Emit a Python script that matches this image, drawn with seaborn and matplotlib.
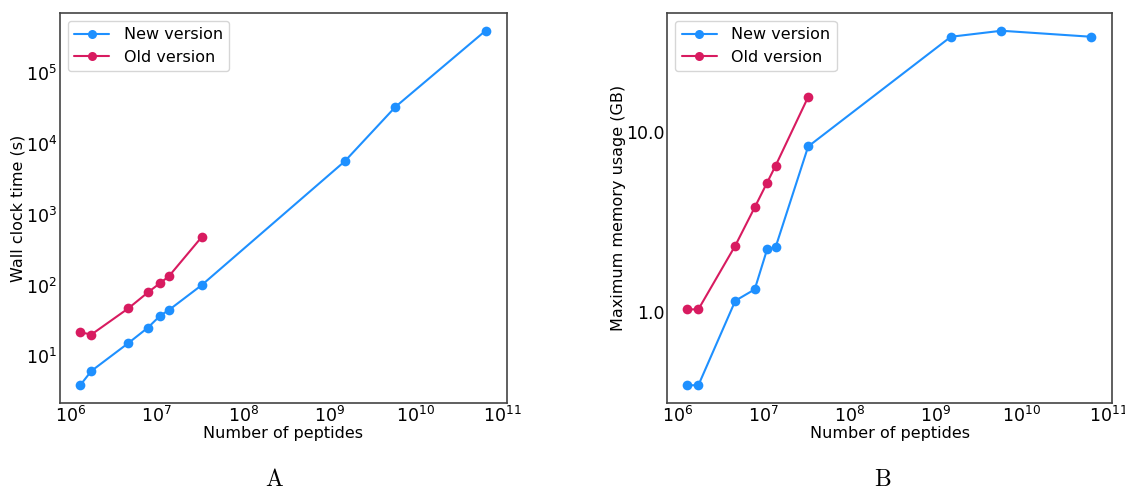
import numpy as np
import pandas as pd
import matplotlib
matplotlib.use("Agg")
import matplotlib.pyplot as plt
import matplotlib.ticker as mticker
import seaborn as sns

# data
peptides_new = [1.3e6, 1.75e6, 4.7e6, 7.9e6, 1.1e7, 1.38e7, 3.3e7, 1.5e9, 5.8e9, 6.4e10]
peptides_old = [1.3e6, 1.75e6, 4.7e6, 7.9e6, 1.1e7, 1.38e7, 3.3e7]

time_new = [3.9, 6.2, 15.4, 25.4, 37.7, 45, 101, 5700, 33600, 400000]
time_old = [21.9, 20.3, 47.7, 80, 109, 135, 482]

mem_new = [0.39, 0.39, 1.15, 1.33, 2.22, 2.28, 8.28, 33.7, 36.4, 33.7]
mem_old = [1.03, 1.03, 2.33, 3.80, 5.21, 6.47, 15.6]

versions = ["New version", "Old version"]
colors = {"New version": "#1E90FF", "Old version": "#D81B60"}

df = pd.concat([
    pd.DataFrame({"peptides": peptides_new, "time": time_new, "mem": mem_new,
                  "version": versions[0]}),
    pd.DataFrame({"peptides": peptides_old, "time": time_old, "mem": mem_old,
                  "version": versions[1]}),
], ignore_index=True)

sns.set_style("white")
plt.rcParams["font.family"] = ["DejaVu Sans"]
plt.rcParams["mathtext.fontset"] = "dejavusans"
plt.rcParams["text.color"] = "black"
plt.rcParams["axes.labelcolor"] = "black"
plt.rcParams["xtick.color"] = "black"
plt.rcParams["ytick.color"] = "black"

fig = plt.figure(figsize=(11.25, 4.93), dpi=100)
ax1 = fig.add_axes([0.0533, 0.1826, 0.397, 0.791])
ax2 = fig.add_axes([0.593, 0.1826, 0.3956, 0.791])

for ax, col, ylab in [(ax1, "time", "Wall clock time (s)"),
                      (ax2, "mem", "Maximum memory usage (GB)")]:
    sns.lineplot(data=df, x="peptides", y=col, hue="version", palette=colors,
                 hue_order=versions, marker="o", markersize=7,
                 markeredgewidth=0, linewidth=1.5, sort=False, ax=ax)
    ax.set_xscale("log")
    ax.set_yscale("log")
    ax.set_xlabel("Number of peptides", fontsize=11.5, labelpad=0)
    ax.set_ylabel(ylab, fontsize=11.5, labelpad=0)
    ax.tick_params(axis="both", which="major", labelsize=12.5, length=2, pad=2,
                   direction="in", color="#444444")
    ax.tick_params(axis="both", which="minor", length=1.5, direction="in",
                   color="#444444")
    for s in ax.spines.values():
        s.set_color("#444444")
        s.set_linewidth(1.2)
    leg = ax.legend(loc="upper left", fontsize=11.5, handlelength=2.2,
                    handletextpad=0.9, borderpad=0.4, labelspacing=0.45,
                    frameon=True, fancybox=True)
    leg.set_title(None)
    for h in leg.legend_handles:
        h.set_markersize(6.5)

ax1.set_xlim(10 ** 5.88, 10 ** 11.05)
ax2.set_xlim(10 ** 5.88, 10 ** 11.05)
ax2.yaxis.set_major_locator(mticker.FixedLocator([1.0, 10.0]))
ax2.yaxis.set_major_formatter(mticker.FormatStrFormatter("%.1f"))
ax2.yaxis.set_minor_formatter(mticker.NullFormatter())

fig.text(0.2444, 0.004, r"$\mathrm{A}$", ha="center", va="bottom", fontsize=17,
         math_fontfamily="cm")
fig.text(0.785, 0.004, r"$\mathrm{B}$", ha="center", va="bottom", fontsize=17,
         math_fontfamily="cm")

fig.savefig("out.png", dpi=100)
